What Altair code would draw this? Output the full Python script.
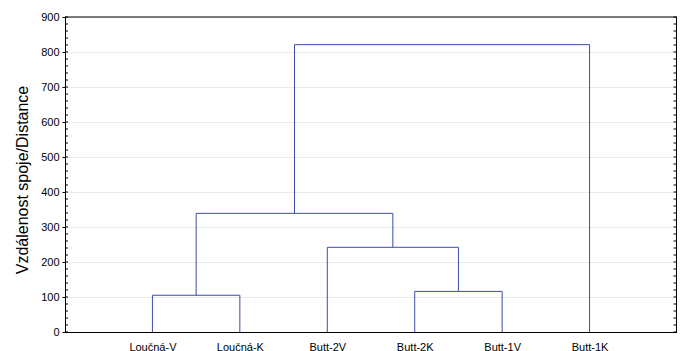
import altair as alt
import pandas as pd

# Leaves (left to right) and merge heights
leaves = ["Loučná-V", "Loučná-K", "Butt-2V", "Butt-2K", "Butt-1V", "Butt-1K"]
# merges: (left child, right child, height); children are leaf names or merge ids "m0".."m4"
merge_left = ["Loučná-V", "Butt-2K", "Butt-2V", "m0", "m3"]
merge_right = ["Loučná-K", "Butt-1V", "m1", "m2", "Butt-1K"]
merge_height = [105, 116, 242, 339, 821]
y_ticks = [0, 100, 200, 300, 400, 500, 600, 700, 800, 900]
minor_ticks = list(range(0, 901, 20))

LINE = "#3B4CA5"
W, H = 612, 315

# node positions: leaves at 1..n, clusters at mean of children
pos = {name: (i + 1, 0.0) for i, name in enumerate(leaves)}
segs = []
for k, (a, b, h) in enumerate(zip(merge_left, merge_right, merge_height)):
    xa, ya = pos[a]
    xb, yb = pos[b]
    segs.append({"x": xa, "x2": xa, "y": ya, "y2": h})
    segs.append({"x": xb, "x2": xb, "y": yb, "y2": h})
    segs.append({"x": xa, "x2": xb, "y": h, "y2": h})
    pos[f"m{k}"] = ((xa + xb) / 2, h)
seg_df = pd.DataFrame(segs)

label_expr = "[" + ",".join(f"'{n}'" for n in leaves) + "][datum.value - 1]"

xs = alt.Scale(domain=[0, len(leaves) + 1], nice=False, zero=False)
ys = alt.Scale(domain=[0, 900], nice=False)

x_axis = alt.Axis(values=list(range(1, len(leaves) + 1)), labelExpr=label_expr,
                  title=None, grid=False, ticks=False, labelPadding=9,
                  labelFontSize=11, labelFont="Liberation Sans", labelColor="#000",
                  domainColor="#000")
y_axis = alt.Axis(values=y_ticks, title="Vzdálenost spoje/Distance", grid=True,
                  gridColor="#EBEBEB", gridWidth=1, tickSize=3, tickColor="#000",
                  labelPadding=3, labelFontSize=11, labelFont="Liberation Sans",
                  labelColor="#000", domainColor="#000",
                  titleFont="Liberation Sans", titleFontSize=16, titleFontWeight="normal",
                  titleColor="#000", titlePadding=10, titleY=H / 2 + 5)

Y = alt.Y("y:Q", scale=ys, axis=y_axis)

tree = alt.Chart(seg_df).mark_rule(color=LINE, strokeWidth=1).encode(
    x=alt.X("x:Q", scale=xs, axis=x_axis),
    x2="x2:Q",
    y=Y,
    y2="y2:Q",
)

tick_df = pd.DataFrame({"y": minor_ticks})
left_ticks = alt.Chart(tick_df).mark_rule(color="#000", strokeWidth=1).encode(
    y=Y, x=alt.value(0), x2=alt.value(3))
right_ticks = alt.Chart(tick_df).mark_rule(color="#000", strokeWidth=1).encode(
    y=Y, x=alt.value(W - 3.5), x2=alt.value(W - 0.5))

frame_df = pd.DataFrame({"y": [900]})
top_border = alt.Chart(frame_df).mark_rule(color="#000", strokeWidth=1).encode(
    y=Y, x=alt.value(0), x2=alt.value(W))
right_border = alt.Chart(frame_df).mark_rule(color="#000", strokeWidth=1).encode(
    x=alt.value(W - 0.5), y=alt.value(0), y2=alt.value(H))

chart = alt.layer(tree, left_ticks, right_ticks, top_border, right_border).properties(
    width=W, height=H,
    autosize=alt.AutoSizeParams(type="none"),
    padding={"left": 57, "top": 9, "right": 0, "bottom": 19},
).configure_view(stroke=None).configure(background="white")

chart.save("out.html", embed_options={"renderer": "svg", "actions": False})
